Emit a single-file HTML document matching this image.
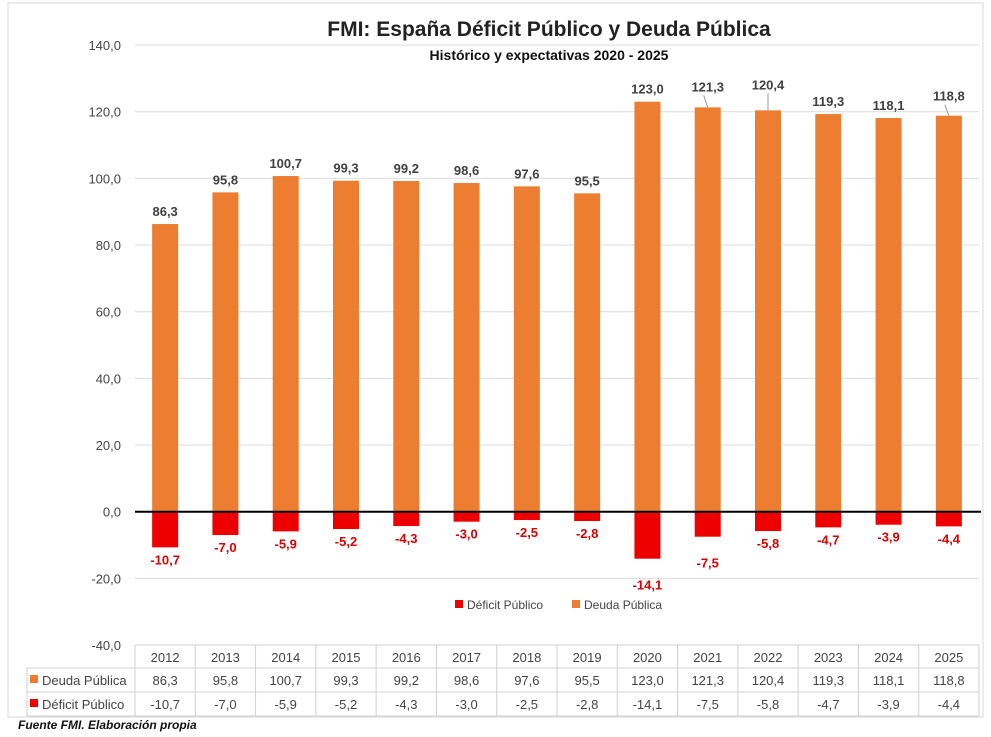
<!DOCTYPE html>
<html><head><meta charset="utf-8"><style>
body{margin:0;background:#fff;width:991px;height:732px;overflow:hidden;font-family:"Liberation Sans",sans-serif}
</style></head><body>
<svg width="991" height="732" font-family="Liberation Sans, sans-serif">
<rect x="8" y="3" width="975" height="714" fill="#fff" stroke="#d9d9d9"/>
<g id="g"></g>
<text x="549" y="36" text-anchor="middle" font-size="21" font-weight="bold" fill="#222">FMI: España Déficit Público y Deuda Pública</text>
<text x="549" y="60" text-anchor="middle" font-size="14" font-weight="bold" fill="#111">Histórico y expectativas 2020 - 2025</text>
<text x="18" y="729" font-size="12" font-style="italic" font-weight="bold" fill="#111">Fuente FMI. Elaboración propia</text>
</svg>
<script>
const years=["2012","2013","2014","2015","2016","2017","2018","2019","2020","2021","2022","2023","2024","2025"];
const deuda=[86.3,95.8,100.7,99.3,99.2,98.6,97.6,95.5,123.0,121.3,120.4,119.3,118.1,118.8];
const deficit=[-10.7,-7.0,-5.9,-5.2,-4.3,-3.0,-2.5,-2.8,-14.1,-7.5,-5.8,-4.7,-3.9,-4.4];
const ticks=[140,120,100,80,60,40,20,0,-20,-40];
const NS="http://www.w3.org/2000/svg",g=document.getElementById('g');
const x0=135,x1=979,cw=(x1-x0)/years.length;
const y=v=>511.7-v*(600/180);
const xc=i=>x0+cw*(i+0.5);
const fmt=v=>v.toFixed(1).replace('.',',');
function el(t,a,txt){const e=document.createElementNS(NS,t);for(const k in a)e.setAttribute(k,a[k]);if(txt!==undefined)e.textContent=txt;g.appendChild(e);return e;}
ticks.forEach(t=>{
if(t!==0&&t>-40){const gl=el('line',{x1:x0,x2:x1,y1:y(t),y2:y(t),stroke:'#dcdcdc'});

}
const e=el('text',{x:121,y:y(t)+5,'text-anchor':'end','font-size':13,fill:'#444'},fmt(t));

});
const raise={9:8,10:13,13:7};
years.forEach((yr,i)=>{
const b=el('rect',{x:xc(i)-13,y:y(deuda[i]),width:26,height:y(0)-y(deuda[i]),fill:'#ed7d31'});


const d=el('rect',{x:xc(i)-13,y:y(0),width:26,height:y(deficit[i])-y(0),fill:'#ee0000'});


const up=raise[i]||0;
if(up){const ll=el('line',{x1:xc(i)-(i==10?0:4),y1:y(deuda[i])-20-up+16,x2:xc(i),y2:y(deuda[i]),stroke:'#999'});

}
const l1=el('text',{x:xc(i),y:y(deuda[i])-8-up,'text-anchor':'middle','font-size':13,'font-weight':'bold',fill:'#404040'},fmt(deuda[i]));


const dn=(i==8||i==9)?14:0;
const l2=el('text',{x:xc(i),y:y(deficit[i])+17+dn,'text-anchor':'middle','font-size':13,'font-weight':'bold',fill:'#dd0000'},fmt(deficit[i]));


});
const z=el('line',{x1:x0,x2:x1+2,y1:y(0),y2:y(0),stroke:'#000','stroke-width':2});


const lg=[["#ee0000","Déficit Público",455],["#ed7d31","Deuda Pública",572]];
lg.forEach(([c,t,x])=>{const r=el('rect',{x:x,y:600,width:8,height:8,fill:c});


const tx=el('text',{x:x+12,y:609,'font-size':12,fill:'#444'},t);

});
[[x0,645,x1,645],[27,668,x1,668],[27,692,x1,692],[27,716,x1,716],[27,668,27,716]].forEach(a=>{
const ln=el('line',{x1:a[0],y1:a[1],x2:a[2],y2:a[3],stroke:'#d0d0d0'});

});
for(let i=0;i<=years.length;i++){const ln=el('line',{x1:x0+cw*i,x2:x0+cw*i,y1:645,y2:716,stroke:'#d0d0d0'});

}
[["#ed7d31","Deuda Pública",685],["#ee0000","Déficit Público",709]].forEach(([c,t,yy])=>{
const r=el('rect',{x:30,y:yy-10,width:8,height:8,fill:c});


const tx=el('text',{x:42,y:yy,'font-size':13,fill:'#444'},t);

});
years.forEach((yr,i)=>{
[[yr,662],[fmt(deuda[i]),685],[fmt(deficit[i]),709]].forEach(([t,yy])=>{
const tx=el('text',{x:xc(i),y:yy,'text-anchor':'middle','font-size':13,fill:'#444'},t);

});
});
</script>
</body></html>
